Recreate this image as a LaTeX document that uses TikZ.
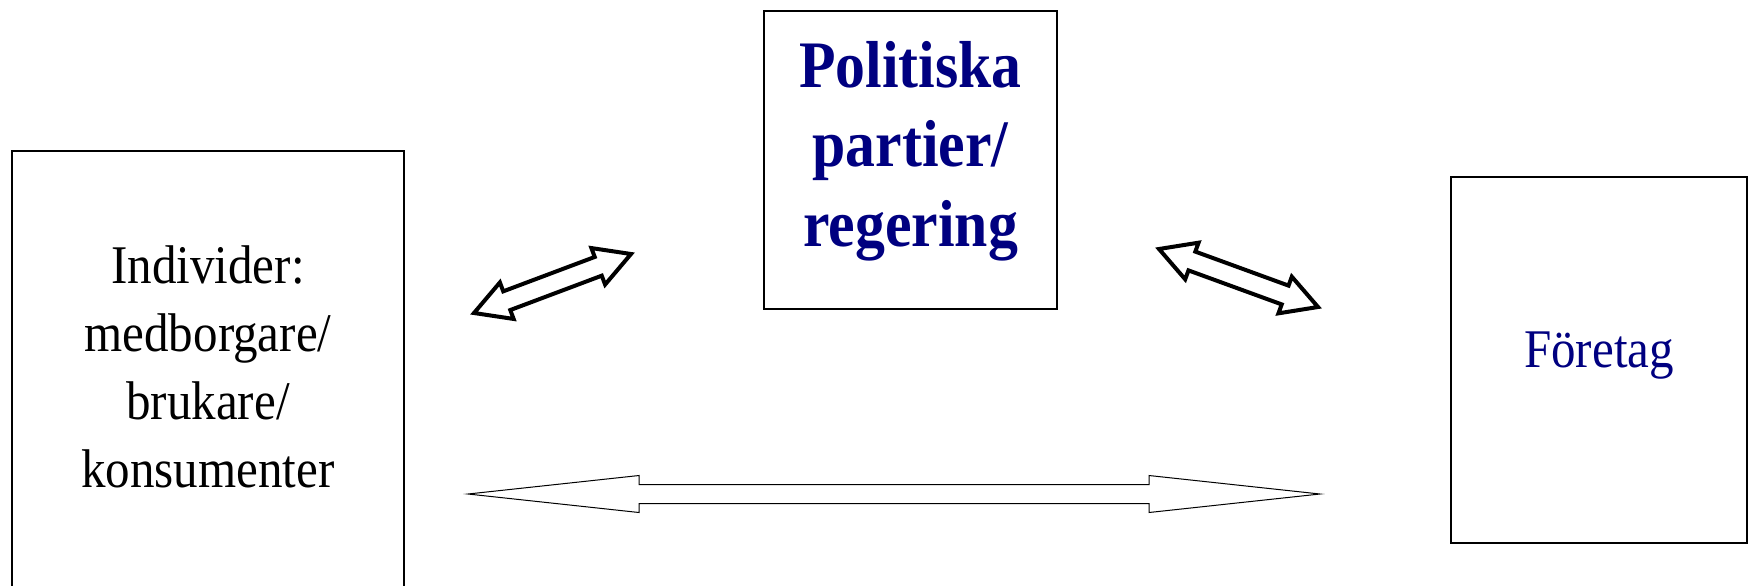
\documentclass[tikz,border=0pt]{standalone}
\usepackage{fontspec}
\setmainfont{Liberation Serif}[FakeStretch=0.9]
\usetikzlibrary{calc}
\definecolor{partyblue}{RGB}{0,0,128}
\tikzset{
  box/.style={draw, line width=0.2mm, inner sep=0pt},
  plaintext/.style={align=center, font=\fontsize{15.5}{19.3}\selectfont},
  boldtext/.style={align=center, font=\fontsize{18.9}{22.6}\selectfont\bfseries, text=partyblue},
  heavyarrow/.style={draw, line width=0.4mm, line join=miter, fill=white},
  lightarrow/.style={draw, line width=0.1mm, line join=miter, fill=white},
}
% #1 style, #2 and #3 tips, #4 shaft half width, #5 head half width, #6 head length
\newcommand{\dblarrow}[6][]{%
  \draw[#1] (#2)
    -- ($(#2)!#6!(#3)!#5!90:(#3)$) -- ($(#2)!#6!(#3)!#4!90:(#3)$)
    -- ($(#3)!#6!(#2)!#4!-90:(#2)$) -- ($(#3)!#6!(#2)!#5!-90:(#2)$)
    -- (#3)
    -- ($(#3)!#6!(#2)!#5!90:(#2)$) -- ($(#3)!#6!(#2)!#4!90:(#2)$)
    -- ($(#2)!#6!(#3)!#4!-90:(#3)$) -- ($(#2)!#6!(#3)!#5!-90:(#3)$)
    -- cycle;}

\begin{document}
\begin{tikzpicture}
  \useasboundingbox (0,0) rectangle (17.5,5.85);
  \clip (0,0) rectangle (17.5,5.85);

  \node[box, minimum width=3.92cm, minimum height=4.38cm] (individer) at (2.08,2.15) {};
  \node[plaintext] (individertext) at ([yshift=0.3mm]individer.center)
    {Individer:\\medborgare/\\brukare/\\konsumenter};
  \node[box, minimum width=2.93cm, minimum height=2.98cm] (partier) at (9.105,4.25) {};
  \node[boldtext] (partiertext) at ([yshift=0.9mm]partier.center)
    {Politiska\\partier/\\regering};
  \node[box, minimum width=2.96cm, minimum height=3.66cm] (foretag) at (15.99,2.25) {};
  \node[plaintext, text=partyblue] (foretagtext) at ([yshift=0.4mm]foretag.center) {Företag};

  \coordinate (ip1) at (4.74,2.72);
  \coordinate (ip2) at (6.31,3.31);
  \coordinate (pf1) at (11.59,3.36);
  \coordinate (pf2) at (13.18,2.78);
  \coordinate (if1) at (4.68,0.91);
  \coordinate (if2) at (13.20,0.91);

  \dblarrow[heavyarrow]{ip1}{ip2}{1.0mm}{1.95mm}{3.5mm}
  \dblarrow[heavyarrow]{pf1}{pf2}{1.0mm}{1.95mm}{3.5mm}
  \dblarrow[lightarrow]{if1}{if2}{0.95mm}{1.85mm}{17.1mm}
\end{tikzpicture}
\end{document}
